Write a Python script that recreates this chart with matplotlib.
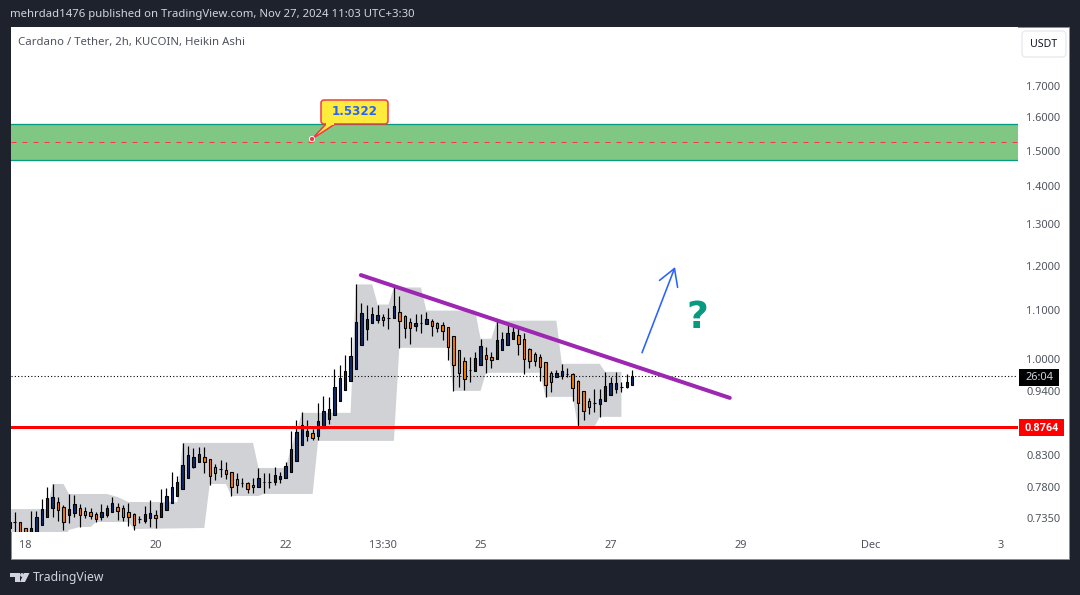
import numpy as np
import matplotlib
matplotlib.use('Agg')
import matplotlib.pyplot as plt
from matplotlib.patches import Rectangle, FancyBboxPatch, Polygon, Circle

# heikin ashi candles, 2h bars
highs = [.7321,.7436,.7293,.7209,.7450,.7450,.7626,.7806,.7852,.7656,.7538,.7701,.7686,.7553,.7509,.7494,.7436,.7553,.7538,.7656,
         .7567,.7538,.7567,.7421,.7379,.7523,.7612,.7465,.7776,.7791,.8037,.7975,.8504,.8454,.8421,.8438,.8438,.8243,.8163,.8227,
         .8195,.8037,.8022,.7944,.7883,.7944,.8100,.8022,.8022,.8116,.8037,.8195,.8704,.8892,.9032,.8892,.8738,.9191,.9317,.9299,
         .9820,.9897,1.0091,1.0451,1.1568,1.1168,1.1125,1.1082,1.1125,1.0931,1.1060,1.1500,1.1322,1.0910,1.0846,1.0931,1.0931,1.0973,1.0825,1.0761,
         1.0761,1.0657,1.0471,1.0190,1.0052,1.0052,1.0150,1.0410,1.0249,1.0150,1.0782,1.0553,1.0740,1.0698,1.0657,1.0533,1.0229,1.0150,1.0111,.9954,
         .9782,.9801,.9916,.9839,.9744,.9612,.9408,.9281,.9445,.9445,.9762,.9668,.9762,.9574,.9725,.9801]
body_top = [.7293,.7293,.7293,.7209,.7209,.7364,.7479,.7641,.7656,.7582,.7509,.7479,.7553,.7494,.7450,.7436,.7407,.7436,.7494,.7567,
            .7509,.7494,.7436,.7407,.7336,.7407,.7421,.7393,.7567,.7671,.7806,.7883,.8147,.8307,.8275,.8323,.8275,.8243,.8116,.8084,
            .8069,.8037,.7929,.7868,.7868,.7837,.7944,.7883,.7883,.7990,.7975,.8132,.8405,.8687,.8806,.8704,.8670,.8875,.9050,.9085,
            .9482,.9649,.9782,1.0071,1.0761,1.0952,1.0825,1.0931,1.0910,1.0867,1.0846,1.1103,1.0973,1.0888,1.0761,1.0740,1.0740,1.0825,1.0782,1.0740,
            1.0698,1.0657,1.0471,1.0190,.9974,.9801,1.0032,1.0269,1.0091,1.0052,1.0390,1.0410,1.0533,1.0553,1.0491,1.0410,1.0209,1.0111,1.0052,.9954,
            .9744,.9744,.9782,.9725,.9725,.9593,.9408,.9227,.9191,.9263,.9500,.9556,.9556,.9482,.9574,.9687]
body_bot = [.7209,.7293,.7098,.7043,.7043,.7043,.7251,.7364,.7494,.7465,.7293,.7393,.7421,.7393,.7393,.7379,.7336,.7364,.7393,.7436,
            .7450,.7364,.7364,.7251,.7336,.7307,.7350,.7350,.7364,.7465,.7567,.7671,.7776,.7944,.8116,.8195,.8195,.7975,.8022,.8084,
            .8006,.7806,.7837,.7868,.7776,.7806,.7806,.7883,.7883,.7883,.7929,.7944,.8037,.8211,.8470,.8620,.8586,.8620,.8755,.8910,
            .8980,.9227,.9427,.9593,.9820,1.0289,1.0616,1.0740,1.0803,1.0803,1.0846,1.0846,1.0782,1.0636,1.0636,1.0678,1.0740,1.0719,1.0678,1.0636,
            1.0574,1.0249,.9897,.9744,.9630,.9801,.9782,.9897,1.0013,.9993,1.0013,1.0190,1.0289,1.0410,1.0309,1.0013,.9974,.9974,.9858,.9519,
            .9574,.9668,.9687,.9725,.9463,.9191,.9050,.9120,.9191,.9173,.9227,.9335,.9445,.9482,.9482,.9519]
lows = [.7098,.7098,.7043,.6970,.7043,.7043,.7251,.7364,.7364,.7307,.7181,.7279,.7364,.7223,.7350,.7336,.7293,.7321,.7364,.7436,
        .7321,.7307,.7237,.7181,.7279,.7279,.7223,.7209,.7364,.7465,.7567,.7671,.7776,.7944,.8100,.8195,.8022,.7837,.7913,.7960,
        .7929,.7671,.7716,.7806,.7716,.7716,.7806,.7716,.7791,.7837,.7868,.7944,.8037,.8211,.8470,.8537,.8553,.8553,.8755,.8823,
        .8980,.9227,.9427,.9593,.9820,1.0289,1.0390,1.0740,1.0740,1.0678,1.0616,1.0846,1.0229,1.0431,1.0309,1.0574,1.0533,1.0719,1.0471,1.0553,
        1.0390,.9993,.9408,.9482,.9427,.9574,.9782,.9897,.9744,.9839,1.0013,1.0190,1.0289,1.0410,1.0091,.9725,.9839,.9877,.9593,.9299,
        .9390,.9668,.9630,.9668,.9227,.8755,.8892,.8997,.9032,.8945,.9227,.9335,.9372,.9390,.9463,.9519]
# 1 = blue candle, 0 = orange candle
up_flags = ('1100111110' '0110000111' '0000111011' '1111110001' '0001001111'
            '1111110111' '1111111110' '1100011100' '0000011100' '1111000000'
            '0111000011' '111111')
is_up = [c == '1' for c in up_flags]

# grey band edges
band_top_x = [0,7,8,10,11,18,20,22,31,32,45,46,51,52,53,54,63,64,67,68,70,71,76,77,86,87,89,90,101,102,109,110,113]
band_top = [.7479,.7479,.7852,.7852,.7701,.7701,.7656,.7582,.7582,.8504,.8504,.8100,.8100,.8405,.8687,.9015,.9015,1.1568,1.1568,1.1125,1.1125,
            1.1500,1.1500,1.0995,1.0995,1.0410,1.0410,1.0782,1.0782,.9916,.9916,.9762,.9762]
band_bot_x = [0,10,11,13,15,16,22,23,36,37,40,41,46,47,56,57,71,72,81,82,87,88,98,99,104,105,108,109,113]
band_bot = [.7043,.7043,.7181,.7223,.7223,.7293,.7293,.7195,.7209,.7852,.7852,.7671,.7671,.7701,.7701,.8537,.8537,1.0229,1.0229,.9408,.9408,
            .9744,.9744,.9299,.9299,.8772,.8772,.8945,.8945]

zone_top = 1.579
zone_bot = 1.4725
zone_mid = 1.5254
target_price = 1.5322
support = 0.8764
last_price = 0.9685
trend_x = [64.9, 133.0]
trend_y = [1.178, 0.9281]
arrow_x = [116.8, 122.9]
arrow_y = [1.0131, 1.1966]

price_ticks = [1.7, 1.6, 1.5, 1.4, 1.3, 1.2, 1.1, 1.0, 0.94, 0.83, 0.78, 0.735]
time_ticks = [3, 27, 51, 69, 87, 111, 135, 159, 183]
time_labels = ['18', '20', '22', '13:30', '25', '27', '29', 'Dec', '3']

W, H = 1080, 595
DARK = '#1e222d'
TXT = '#50535e'
plt.rcParams['font.family'] = ['Noto Sans', 'DejaVu Sans']
px = 0.72  # one pixel in points at dpi 100

fig = plt.figure(figsize=(W/100, H/100), dpi=100, facecolor=DARK)
fig.patches.append(Rectangle((11/W, 1-559/H), 1058/W, 532/H, transform=fig.transFigure, fc='white', ec='#8a8d96', lw=px, zorder=-1))

ax = fig.add_axes([11/W, 1-532/H, 1007/W, 505/H])
ax.set_facecolor('white')
ax.set_yscale('log')
ax.set_xlim((11-9.3)/5.417, (1018-9.3)/5.417)
ax.set_ylim(0.7153, 1.907)
for s in ax.spines.values():
    s.set_visible(False)

ax.fill(band_top_x + band_bot_x[::-1], band_top + band_bot[::-1], color='#d1d2d6', lw=0, zorder=1)

ax.axhspan(zone_bot, zone_top, fc='#81c784', ec='none', zorder=1)
ax.axhline(zone_top, color='#089981', lw=1.3*px, zorder=2)
ax.axhline(zone_bot, color='#089981', lw=1.3*px, zorder=2)
ax.axhline(zone_mid, color='#f23645', lw=px, ls=(0, (5, 6)), zorder=2)
ax.axhline(last_price, color='black', lw=1.1*px, ls=(0, (1, 2)), zorder=2)

idx = np.arange(len(highs))
ax.vlines(idx, lows, highs, color='black', lw=1.2*px, zorder=3)
tops = np.array(body_top)
bots = np.array(body_bot)
cols = ['#0d2b6b' if u else '#f57c00' for u in is_up]
ax.bar(idx, tops-bots, bottom=bots, width=0.45, color=cols, edgecolor='black', lw=1.1*px, zorder=4)

ax.axhline(support, color='#ff0000', lw=3*px, zorder=5)
ax.plot(trend_x, trend_y, color='#9c27b0', lw=4*px, solid_capstyle='round', zorder=5)
ax.annotate('', xy=(arrow_x[1], arrow_y[1]), xytext=(arrow_x[0], arrow_y[0]),
            arrowprops=dict(arrowstyle='->,head_length=0.85,head_width=0.5', color='#2962ff', lw=1.6*px, shrinkA=0, shrinkB=0, mutation_scale=14), zorder=5)
ax.text(127, 1.0835, '?', color='#089981', fontsize=27, fontweight='bold', family='DejaVu Sans', ha='center', va='center', zorder=5)

ax.yaxis.tick_right()
ax.set_yticks(price_ticks)
ax.set_yticklabels(['%.4f' % p for p in price_ticks], fontsize=7.9, color=TXT)
ax.minorticks_off()
ax.tick_params(axis='y', length=0, pad=6, which='both')
ax.set_xticks(time_ticks)
ax.set_xticklabels(time_labels, fontsize=7.9, color=TXT)
ax.tick_params(axis='x', length=0, pad=5.5)

# page furniture, in pixel coordinates
ov = fig.add_axes([0, 0, 1, 1], zorder=10)
ov.set_xlim(0, W)
ov.set_ylim(H, 0)
ov.axis('off')
ov.patch.set_alpha(0)

ov.text(10, 14.5, 'mehrdad1476 published on TradingView.com, Nov 27, 2024 11:03 UTC+3:30', color='#d1d4dc', fontsize=8.15, va='center')
ov.text(18, 42.5, 'Cardano / Tether, 2h, KUCOIN, Heikin Ashi', color=TXT, fontsize=8.2, va='center')

ov.add_patch(FancyBboxPatch((1024, 33), 40, 22, boxstyle='round,pad=2,rounding_size=4', fc='white', ec='#e0e3eb', lw=px))
ov.text(1044, 44.5, 'USDT', color='#131722', fontsize=7.6, ha='center', va='center')

ov.add_patch(Rectangle((1019, 369), 40, 17, fc='black', ec='none'))
ov.text(1039, 378, '26:04', color='#d1d4dc', fontsize=7.9, ha='center', va='center')
ov.add_patch(Rectangle((1019, 419), 45, 17, fc='#ff0000', ec='none'))
ov.text(1041.5, 428, '0.8764', color='white', fontsize=7.8, fontweight='bold', family='Roboto', ha='center', va='center')

# callout
ov.add_patch(Polygon([(312, 139), (326, 124), (335, 124)], fc='#ffeb3b', ec='#f23645', lw=1.5*px))
ov.add_patch(FancyBboxPatch((323, 102), 63, 20, boxstyle='round,pad=2,rounding_size=3', fc='#ffeb3b', ec='#f23645', lw=1.5*px))
ov.add_patch(Rectangle((326, 121), 8, 3.5, fc='#ffeb3b', ec='none'))
ov.add_patch(Circle((312, 139), 2.6, fc='#f23645', ec='#f5f5f5', lw=px))
ov.text(354.5, 111.5, '%.4f' % target_price, color='#2962ff', fontsize=8.6, fontweight='bold', family='DejaVu Sans', ha='center', va='center')

# logo
ov.add_patch(Polygon([(10, 573), (19.5, 573), (19.5, 582), (14.5, 582), (14.5, 577), (10, 577)], fc='#d1d4dc', ec='none'))
ov.add_patch(Circle((22, 575), 1.9, fc='#d1d4dc', ec='none'))
ov.add_patch(Polygon([(24, 573), (29.5, 573), (25, 582), (20, 582)], fc='#d1d4dc', ec='none'))
ov.text(33, 577, 'TradingView', color='#d1d4dc', fontsize=8.8, va='center')

fig.savefig('out.png', dpi=100, facecolor=DARK)
